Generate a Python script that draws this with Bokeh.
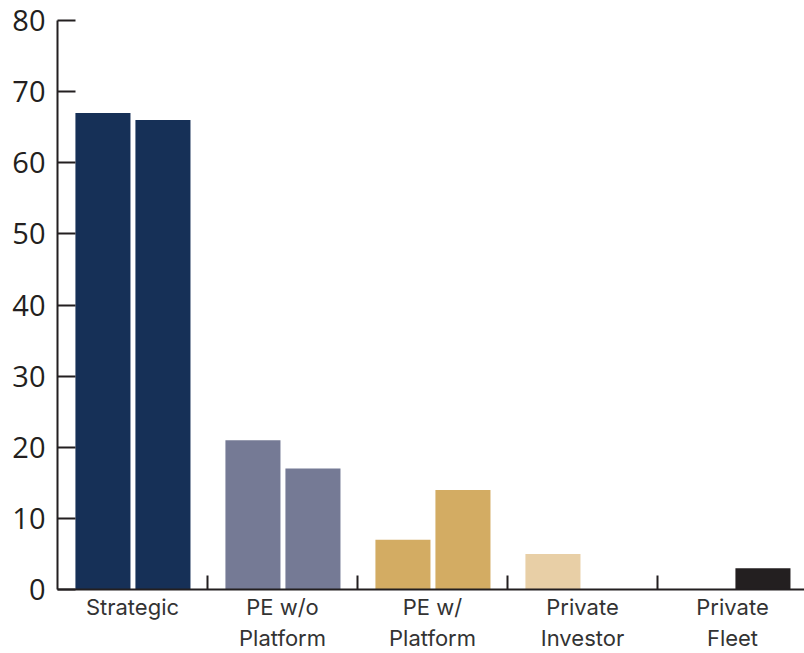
from bokeh.plotting import figure
from bokeh.models import FixedTicker, Range1d, ColumnDataSource
from bokeh.embed import file_html
from bokeh.resources import INLINE

categories = ["Strategic", "PE w/o\nPlatform", "PE w/\nPlatform", "Private\nInvestor", "Private\nFleet"]
series_a = [67, 21, 7, 5, 0]
series_b = [66, 17, 14, 0, 3]
colors = ["#163057", "#757a95", "#d3ac63", "#e8cfa6", "#231f20"]
y_ticks = [0, 10, 20, 30, 40, 50, 60, 70, 80]

ink = "#231f20"

p = figure(width=804, height=653, output_backend="svg", toolbar_location=None,
           x_range=Range1d(0, 4.98), y_range=Range1d(0, 80),
           min_border_left=57, min_border_right=0, min_border_top=20, min_border_bottom=64)
p.outline_line_color = None
p.grid.visible = False
p.background_fill_color = "white"

n = len(categories)
centers = [i + 0.5 for i in range(n)]
bw = 0.367
src = ColumnDataSource(dict(
    x=[c - 0.197 for c in centers] + [c + 0.203 for c in centers],
    top=series_a + series_b,
    color=colors + colors,
))
p.vbar(x="x", top="top", width=bw, bottom=0, color="color", source=src, line_color=None)

xa = p.xaxis[0]
xa.ticker = FixedTicker(ticks=centers, minor_ticks=[i + 1 for i in range(n)])
xa.major_label_overrides = {c: lab for c, lab in zip(centers, categories)}
xa.major_tick_in = 0
xa.major_tick_out = 0
xa.minor_tick_in = 14
xa.minor_tick_out = 0
xa.minor_tick_line_color = ink
xa.minor_tick_line_width = 2
xa.axis_line_color = ink
xa.axis_line_width = 2
xa.major_label_text_font = "Inter"
xa.major_label_text_font_size = "22px"
xa.major_label_text_color = "#333333"
xa.major_label_standoff = 4

ya = p.yaxis[0]
ya.ticker = FixedTicker(ticks=y_ticks)
ya.minor_tick_line_color = None
ya.major_tick_in = 18
ya.major_tick_out = 0
ya.major_tick_line_color = ink
ya.major_tick_line_width = 2
ya.axis_line_color = ink
ya.axis_line_width = 2
ya.major_label_text_font = "Open Sans"
ya.major_label_text_font_size = "29px"
ya.major_label_text_color = ink
ya.major_label_standoff = 12

open("out.html", "w").write(file_html(p, INLINE))
